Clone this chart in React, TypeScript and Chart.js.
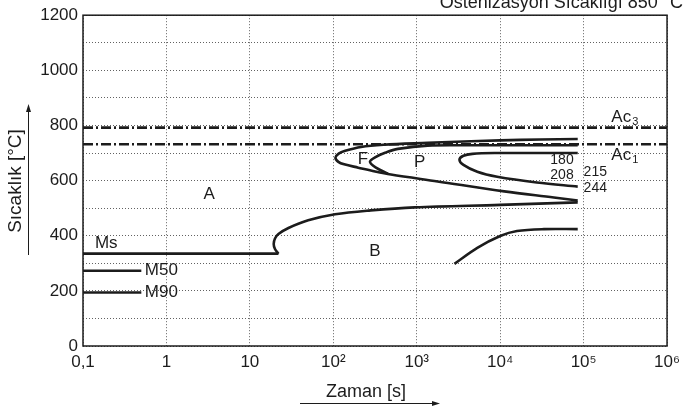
import React, { useEffect, useRef } from "react";
import { Chart, registerables } from "chart.js";
Chart.register(...registerables);

// ---- axes ----
const timeTicks = [0.1, 1, 10, 100, 1000, 10000, 100000, 1000000];
const timeTickLabels = ["0,1", "1", "10", "10²", "10³", "10⁴", "10⁵", "10⁶"];
const tempMin = 0;
const tempMax = 1200;
const tempStep = 100;
const tempLabelStep = 200;

// ---- critical temperatures ----
const acTimes = [0.1, 1000000];
const ac3Temp = [792, 792];
const ac1Temp = [732, 732];

// ---- martensite lines ----
const msTime = [0.1, 22];
const msTemp = [335, 335];
const m50Time = [0.1, 0.5];
const m50Temp = [273, 273];
const m90Time = [0.1, 0.5];
const m90Temp = [194, 194];

// ---- transformation curves ----
const bainiteStartTime = [22, 20, 19.3, 20, 22, 29, 50, 105, 280, 946, 10000, 85000];
const bainiteStartTemp = [335, 352, 370, 390, 406, 428, 456, 478, 492, 503, 512, 521];

const ferriteTime = [85000, 30000, 10000, 3000, 1350, 400, 215, 139, 116, 106, 115, 135, 199, 317, 490, 1780, 11200, 44000, 85000];
const ferriteTemp = [751, 749, 746, 741, 737, 730, 722, 708, 698, 683, 668, 659, 647, 633, 622, 597, 561, 539, 528];

const pearliteTime = [85000, 20000, 5000, 1350, 594, 417, 325, 275, 325, 452];
const pearliteTemp = [728, 728, 728, 727, 715, 701, 686, 668, 647, 625];

const curve3Time = [85000, 30000, 9200, 4640, 3630, 3250, 3630, 5320, 9200, 27500, 85000];
const curve3Temp = [700, 700, 700, 697, 690, 676, 657, 632, 614, 593, 578];

const bainiteEndTime = [2830, 5320, 10000, 15900, 33400, 85000];
const bainiteEndTemp = [298, 356, 399, 417, 424, 424];

// ---- annotations ----
const regionLabels = ["A", "B", "F", "P"];
const regionLabelTime = [3.25, 316, 227, 1086];
const regionLabelTemp = [550, 345, 679, 668];

const lineLabels = ["Ms", "M50", "M90"];
const lineLabelTime = [0.139, 0.55, 0.55];
const lineLabelTemp = [374, 273, 194];

const hardnessLeftLabels = ["180", "208"];
const hardnessLeftTime = [76000, 76000];
const hardnessLeftTemp = [675, 618];
const hardnessRightLabels = ["215", "244"];
const hardnessRightTime = [100000, 100000];
const hardnessRightTemp = [632, 571];

const acLabels = ["3", "1"];
const acLabelTime = [215000, 215000];
const acLabelTemp = [830, 693];

const titleText = "Östenizasyon Sıcaklığı 850 °C";
const xTitle = "Zaman [s]";
const yTitle = "Sıcaklık [°C]";

const FONT = "'Liberation Sans', Arial, Helvetica, sans-serif";
const INK = "#1c1c1c";

const pts = (t: number[], T: number[]) => t.map((v, i) => ({ x: v, y: T[i] }));

const overlay = {
  id: "overlay",
  afterDraw(chart: any) {
    const { ctx, chartArea: a } = chart;
    const xs = chart.scales.x;
    const ys = chart.scales.y;
    const px = (t: number) => xs.getPixelForValue(t);
    const py = (T: number) => ys.getPixelForValue(T);
    ctx.save();
    // frame
    ctx.strokeStyle = INK;
    ctx.lineWidth = 1.5;
    ctx.setLineDash([]);
    ctx.strokeRect(a.left, a.top, a.right - a.left, a.bottom - a.top);

    ctx.fillStyle = INK;
    ctx.textBaseline = "middle";
    // region letters
    ctx.font = `17px ${FONT}`;
    ctx.textAlign = "center";
    regionLabels.forEach((s, i) => ctx.fillText(s, px(regionLabelTime[i]), py(regionLabelTemp[i])));
    ctx.textAlign = "left";
    lineLabels.forEach((s, i) => ctx.fillText(s, px(lineLabelTime[i]), py(lineLabelTemp[i])));
    // hardness values
    ctx.font = `14px ${FONT}`;
    ctx.textAlign = "right";
    hardnessLeftLabels.forEach((s, i) => ctx.fillText(s, px(hardnessLeftTime[i]), py(hardnessLeftTemp[i])));
    ctx.textAlign = "left";
    hardnessRightLabels.forEach((s, i) => ctx.fillText(s, px(hardnessRightTime[i]), py(hardnessRightTemp[i])));
    // Ac labels
    acLabels.forEach((s, i) => {
      const x0 = px(acLabelTime[i]);
      const y0 = py(acLabelTemp[i]);
      ctx.font = `17px ${FONT}`;
      ctx.textAlign = "left";
      ctx.fillText("Ac", x0, y0);
      const w = ctx.measureText("Ac").width;
      ctx.font = `11px ${FONT}`;
      ctx.fillText(s, x0 + w + 1, y0 + 5);
    });

    // top title (cropped)
    ctx.font = `18px ${FONT}`;
    ctx.textAlign = "right";
    ctx.textBaseline = "alphabetic";
    ctx.fillText(titleText, 683, 8);

    // x title + arrow
    ctx.font = `18px ${FONT}`;
    ctx.textAlign = "center";
    ctx.textBaseline = "middle";
    ctx.fillText(xTitle, 366, 392);
    ctx.lineWidth = 1;
    ctx.beginPath();
    ctx.moveTo(300, 403.5);
    ctx.lineTo(434, 403.5);
    ctx.stroke();
    ctx.beginPath();
    ctx.moveTo(440, 403.5);
    ctx.lineTo(432, 401);
    ctx.lineTo(432, 406);
    ctx.closePath();
    ctx.fill();

    // y title + arrow
    ctx.save();
    ctx.translate(16, 181);
    ctx.rotate(-Math.PI / 2);
    ctx.font = `19px ${FONT}`;
    ctx.textAlign = "center";
    ctx.textBaseline = "middle";
    ctx.fillText(yTitle, 0, 0);
    ctx.restore();
    ctx.beginPath();
    ctx.moveTo(28.5, 255);
    ctx.lineTo(28.5, 110);
    ctx.stroke();
    ctx.beginPath();
    ctx.moveTo(28.5, 104);
    ctx.lineTo(26, 112);
    ctx.lineTo(31, 112);
    ctx.closePath();
    ctx.fill();
    ctx.restore();
  },
};

export default function App() {
  const ref = useRef<HTMLCanvasElement>(null);
  useEffect(() => {
    Chart.defaults.font.family = FONT;
    const solid = (data: any[], tension = 0.35) => ({
      data,
      borderColor: INK,
      borderWidth: 2.6,
      pointRadius: 0,
      tension,
      fill: false,
    });
    const dashDot = (data: any[]) => ({
      data,
      borderColor: INK,
      borderWidth: 2.6,
      borderDash: [10, 3, 2, 3],
      pointRadius: 0,
      tension: 0,
      fill: false,
    });
    const gridColor = "rgba(70,70,70,0.85)";
    const chart = new Chart(ref.current as HTMLCanvasElement, {
      type: "line",
      data: {
        datasets: [
          dashDot(pts(acTimes, ac3Temp)),
          dashDot(pts(acTimes, ac1Temp)),
          solid(pts(msTime, msTemp), 0),
          solid(pts(m50Time, m50Temp), 0),
          solid(pts(m90Time, m90Temp), 0),
          solid(pts(bainiteStartTime, bainiteStartTemp)),
          solid(pts(ferriteTime, ferriteTemp)),
          solid(pts(pearliteTime, pearliteTemp)),
          solid(pts(curve3Time, curve3Temp)),
          solid(pts(bainiteEndTime, bainiteEndTemp)),
        ] as any,
      },
      options: {
        responsive: false,
        animation: false,
        devicePixelRatio: 1,
        parsing: false as any,
        normalized: true,
        layout: { padding: { top: 12, right: 16, left: 0, bottom: 0 } },
        plugins: {
          legend: { display: false },
          tooltip: { enabled: false },
          title: { display: false },
        },
        scales: {
          x: {
            type: "logarithmic",
            min: timeTicks[0],
            max: timeTicks[timeTicks.length - 1],
            afterBuildTicks: (s: any) => {
              s.ticks = timeTicks.map((v) => ({ value: v }));
            },
            afterFit: (s: any) => {
              s.height = 65;
            },
            grid: { color: gridColor, lineWidth: 1, drawTicks: false },
            border: { display: false, dash: [1, 2] },
            ticks: {
              padding: 6,
              color: INK,
              autoSkip: false,
              maxRotation: 0,
              font: { size: 17 },
              callback: (_v: any, i: number) => timeTickLabels[i],
            },
          },
          y: {
            type: "linear",
            min: tempMin,
            max: tempMax,
            afterFit: (s: any) => {
              s.width = 83;
            },
            grid: { color: gridColor, lineWidth: 1, drawTicks: false },
            border: { display: false, dash: [1, 2] },
            ticks: {
              stepSize: tempStep,
              padding: 5,
              color: INK,
              autoSkip: false,
              font: { size: 17 },
              callback: (v: any) => (Number(v) % tempLabelStep === 0 ? String(v) : ""),
            },
          },
        },
      },
      plugins: [overlay],
    } as any);
    return () => chart.destroy();
  }, []);
  return (
    <div style={{ position: "absolute", left: 0, top: 0, width: 686, height: 411, background: "#fff" }}>
      <canvas ref={ref} width={686} height={411} style={{ display: "block" }} />
    </div>
  );
}
